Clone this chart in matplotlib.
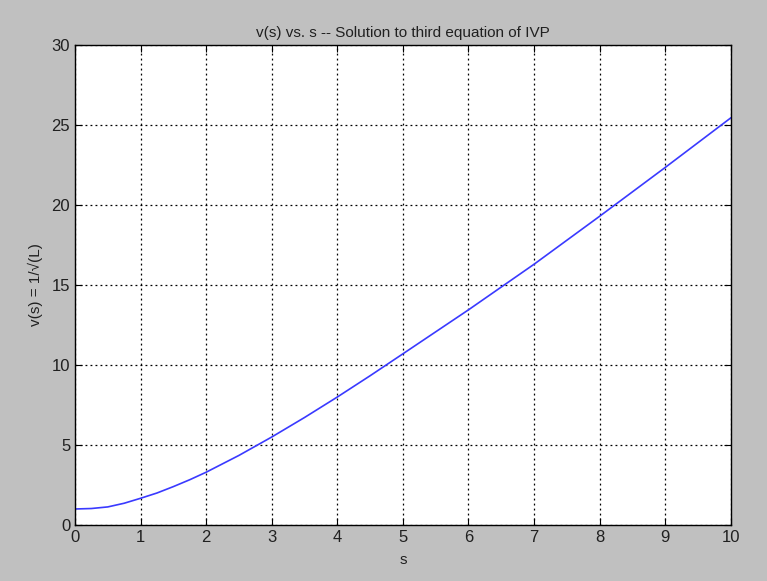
import matplotlib
matplotlib.use("Agg")
import matplotlib.pyplot as plt

s = [0, 0.25, 0.5, 0.75, 1, 1.25, 1.5, 1.75, 2, 2.5, 3, 3.5, 4, 4.5, 5, 6, 7, 8, 9, 10]
v = [1.0, 1.03, 1.13, 1.36, 1.67, 2.0, 2.4, 2.83, 3.3, 4.35, 5.5, 6.72, 8.0, 9.33, 10.7, 13.45, 16.3, 19.3, 22.35, 25.45]
xticks = list(range(0, 11))
yticks = [0, 5, 10, 15, 20, 25, 30]

plt.rcParams['font.family'] = ['Liberation Sans', 'DejaVu Sans']
fig = plt.figure(figsize=(7.67, 5.81), dpi=100, facecolor='#c0c0c0')
ax = fig.add_axes([0.0978, 0.0964, 0.855, 0.826])
ax.plot(s, v, color='#3a3aff', linewidth=1.2)
ax.set_xlim(0, 10)
ax.set_ylim(0, 30)
ax.set_xticks(xticks)
ax.set_yticks(yticks)
ax.grid(True, color='black', linestyle=(0, (1.5, 2.5)), linewidth=0.9)
ax.tick_params(direction='in', length=5, labelsize=12, top=True, right=True, colors='black', labelcolor='#202020')
for sp in ax.spines.values():
    sp.set_linewidth(1.0)
ax.set_title('v(s) vs. s -- Solution to third equation of IVP', fontsize=11, color='#202020', pad=6)
ax.set_xlabel('s', fontsize=11, color='#202020', labelpad=6)
ax.set_ylabel('v(s) = 1/\u221a(L)', fontsize=11, color='#202020', labelpad=6)
fig.savefig('out.png', dpi=100, facecolor=fig.get_facecolor())
